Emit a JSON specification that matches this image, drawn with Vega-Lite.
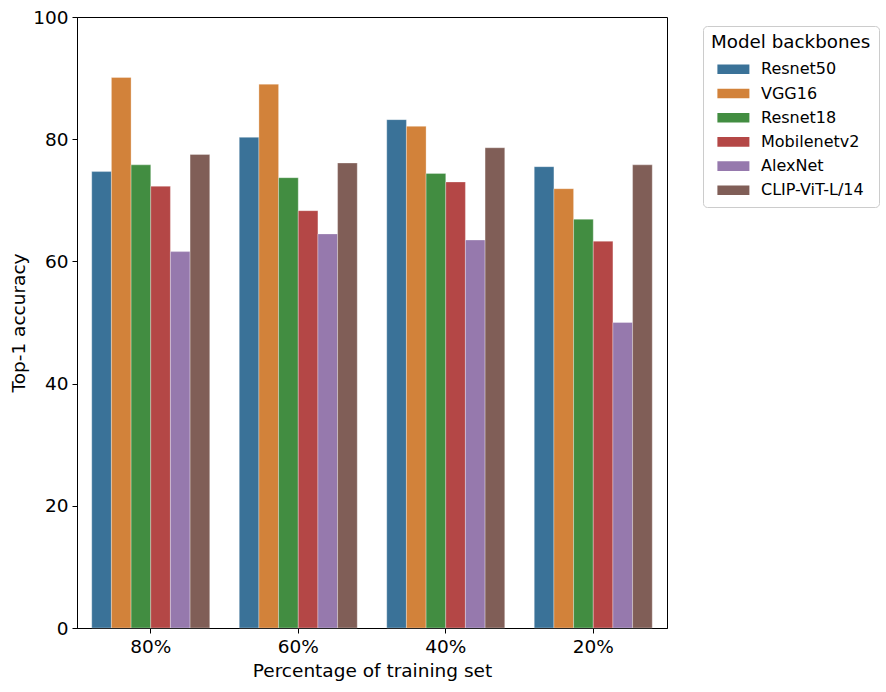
{
  "$schema": "https://vega.github.io/schema/vega-lite/v6.json",
  "width": 590,
  "height": 611,
  "autosize": "none",
  "padding": {"left": 77, "top": 17, "right": 219, "bottom": 64},
  "background": "white",
  "config": {
    "font": "DejaVu Sans",
    "view": {"stroke": "black", "strokeWidth": 1},
    "axis": {"domainColor": "black", "tickColor": "black", "labelColor": "black", "titleColor": "black", "grid": false, "labelFontSize": 18.5, "titleFontSize": 18.5, "titleFontWeight": "normal", "labelFont": "DejaVu Sans", "titleFont": "DejaVu Sans", "tickSize": 5, "labelPadding": 4}
  },
  "data": {
    "values": [
      {"pct": "80%", "model": "Resnet50", "acc": 74.7},
      {"pct": "80%", "model": "VGG16", "acc": 90.1},
      {"pct": "80%", "model": "Resnet18", "acc": 75.8},
      {"pct": "80%", "model": "Mobilenetv2", "acc": 72.3},
      {"pct": "80%", "model": "AlexNet", "acc": 61.6},
      {"pct": "80%", "model": "CLIP-ViT-L/14", "acc": 77.5},
      {"pct": "60%", "model": "Resnet50", "acc": 80.3},
      {"pct": "60%", "model": "VGG16", "acc": 89.0},
      {"pct": "60%", "model": "Resnet18", "acc": 73.7},
      {"pct": "60%", "model": "Mobilenetv2", "acc": 68.3},
      {"pct": "60%", "model": "AlexNet", "acc": 64.5},
      {"pct": "60%", "model": "CLIP-ViT-L/14", "acc": 76.1},
      {"pct": "40%", "model": "Resnet50", "acc": 83.2},
      {"pct": "40%", "model": "VGG16", "acc": 82.1},
      {"pct": "40%", "model": "Resnet18", "acc": 74.4},
      {"pct": "40%", "model": "Mobilenetv2", "acc": 73.0},
      {"pct": "40%", "model": "AlexNet", "acc": 63.5},
      {"pct": "40%", "model": "CLIP-ViT-L/14", "acc": 78.6},
      {"pct": "20%", "model": "Resnet50", "acc": 75.5},
      {"pct": "20%", "model": "VGG16", "acc": 71.9},
      {"pct": "20%", "model": "Resnet18", "acc": 66.9},
      {"pct": "20%", "model": "Mobilenetv2", "acc": 63.3},
      {"pct": "20%", "model": "AlexNet", "acc": 50.0},
      {"pct": "20%", "model": "CLIP-ViT-L/14", "acc": 75.8}
    ]
  },
  "mark": {"type": "bar", "stroke": "white", "strokeWidth": 0.6, "strokeOpacity": 0.5},
  "encoding": {
    "x": {
      "field": "pct", "type": "nominal",
      "sort": ["80%", "60%", "40%", "20%"],
      "scale": {"paddingInner": 0.2, "paddingOuter": 0.1},
      "axis": {"labelAngle": 0, "title": "Percentage of training set", "titlePadding": 6}
    },
    "xOffset": {
      "field": "model", "type": "nominal",
      "sort": ["Resnet50", "VGG16", "Resnet18", "Mobilenetv2", "AlexNet", "CLIP-ViT-L/14"],
      "scale": {"paddingInner": 0, "paddingOuter": 0}
    },
    "y": {
      "field": "acc", "type": "quantitative",
      "scale": {"domain": [0, 100], "nice": false},
      "axis": {"values": [0, 20, 40, 60, 80, 100], "title": "Top-1 accuracy", "titlePadding": 4}
    },
    "color": {
      "field": "model", "type": "nominal",
      "sort": ["Resnet50", "VGG16", "Resnet18", "Mobilenetv2", "AlexNet", "CLIP-ViT-L/14"],
      "scale": {
        "domain": ["Resnet50", "VGG16", "Resnet18", "Mobilenetv2", "AlexNet", "CLIP-ViT-L/14"],
        "range": ["#3a7298", "#d2823a", "#428d41", "#b44746", "#9679ad", "#805e57"]
      },
      "legend": {
        "title": "Model backbones",
        "orient": "none",
        "legendX": 626,
        "legendY": 9,
        "titleFontSize": 18.3,
        "titleFontWeight": "normal",
        "titleColor": "black",
        "titleFont": "DejaVu Sans",
        "labelFont": "DejaVu Sans",
        "labelFontSize": 16,
        "labelColor": "black",
        "labelOffset": 18,
        "symbolType": "M-0.6,-0.3H1.4V0.3H-0.6Z",
        "symbolSize": 1024,
        "symbolStrokeWidth": 0,
        "symbolOpacity": 1,
        "rowPadding": 0.2,
        "padding": 8,
        "fillColor": "white",
        "strokeColor": "#cccccc",
        "cornerRadius": 4,
        "titlePadding": 1,
        "offset": 0
      }
    }
  }
}
